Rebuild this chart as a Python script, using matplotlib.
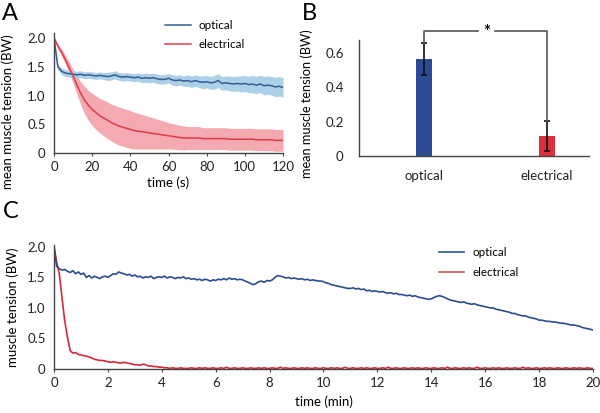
import numpy as np
import matplotlib
matplotlib.use('Agg')
from matplotlib import pyplot as plt

plt.rcParams['font.family'] = ['Lato', 'DejaVu Sans']

# Panel A: mean tension (every 2 s, 0-120 s)
t_a = np.arange(0, 121, 2)
opt_a = [2.00, 1.50, 1.42, 1.39, 1.38, 1.37, 1.36, 1.37, 1.35, 1.36,
         1.35, 1.34, 1.35, 1.34, 1.33, 1.34, 1.36, 1.33, 1.32, 1.33,
         1.32, 1.31, 1.32, 1.30, 1.31, 1.30, 1.31, 1.29, 1.28, 1.28,
         1.30, 1.27, 1.26, 1.27, 1.25, 1.26, 1.24, 1.26, 1.24, 1.23,
         1.24, 1.22, 1.23, 1.26, 1.21, 1.22, 1.21, 1.20, 1.21, 1.20,
         1.21, 1.19, 1.20, 1.18, 1.20, 1.17, 1.18, 1.17, 1.15, 1.16,
         1.14]
opt_a_sd = [0.02, 0.05, 0.06, 0.06, 0.06, 0.06, 0.06, 0.06, 0.06, 0.06,
            0.06, 0.06, 0.06, 0.06, 0.07, 0.07, 0.07, 0.07, 0.07, 0.07,
            0.07, 0.07, 0.07, 0.08, 0.08, 0.08, 0.08, 0.08, 0.08, 0.08,
            0.08, 0.09, 0.09, 0.09, 0.09, 0.10, 0.10, 0.10, 0.10, 0.11,
            0.11, 0.11, 0.12, 0.12, 0.12, 0.12, 0.13, 0.13, 0.13, 0.14,
            0.14, 0.14, 0.15, 0.15, 0.15, 0.16, 0.16, 0.16, 0.17, 0.17,
            0.17]
ele_a = [2.00, 1.86, 1.75, 1.62, 1.48, 1.34, 1.18, 1.04, 0.92, 0.83,
         0.76, 0.70, 0.65, 0.61, 0.57, 0.53, 0.50, 0.47, 0.45, 0.43,
         0.41, 0.39, 0.38, 0.37, 0.36, 0.35, 0.34, 0.33, 0.32, 0.31,
         0.30, 0.29, 0.28, 0.27, 0.26, 0.26, 0.26, 0.26, 0.26, 0.25,
         0.25, 0.25, 0.25, 0.25, 0.25, 0.25, 0.24, 0.24, 0.24, 0.24,
         0.24, 0.24, 0.24, 0.23, 0.23, 0.23, 0.23, 0.23, 0.22, 0.22,
         0.22]
ele_a_sd = [0.02, 0.04, 0.06, 0.08, 0.10, 0.12, 0.16, 0.20, 0.24, 0.26,
            0.28, 0.29, 0.30, 0.31, 0.32, 0.32, 0.33, 0.33, 0.33, 0.33,
            0.33, 0.32, 0.31, 0.30, 0.29, 0.28, 0.27, 0.26, 0.25, 0.24,
            0.23, 0.22, 0.22, 0.21, 0.21, 0.20, 0.20, 0.20, 0.20, 0.19,
            0.19, 0.19, 0.19, 0.19, 0.19, 0.19, 0.19, 0.19, 0.19, 0.19,
            0.19, 0.19, 0.19, 0.19, 0.19, 0.19, 0.19, 0.19, 0.19, 0.19,
            0.19]

# Panel B
groups = ['optical', 'electrical']
means_b = [0.563, 0.116]
errs_b = [0.093, 0.088]

# Panel C: single trial (every 0.1 min, 0-20 min)
t_c = np.arange(0, 201) / 10
opt_c = [2.00, 1.68, 1.64, 1.62, 1.63, 1.60, 1.58, 1.61, 1.56, 1.59,
         1.55, 1.57, 1.50, 1.53, 1.49, 1.52, 1.50, 1.48, 1.51, 1.52,
         1.50, 1.53, 1.56, 1.55, 1.59, 1.57, 1.56, 1.54, 1.55, 1.52,
         1.54, 1.51, 1.52, 1.49, 1.51, 1.50, 1.52, 1.48, 1.50, 1.51,
         1.50, 1.52, 1.49, 1.51, 1.50, 1.48, 1.50, 1.49, 1.51, 1.48,
         1.49, 1.47, 1.48, 1.46, 1.47, 1.45, 1.47, 1.46, 1.44, 1.46,
         1.45, 1.47, 1.46, 1.48, 1.46, 1.49, 1.47, 1.48, 1.46, 1.47,
         1.46, 1.44, 1.42, 1.40, 1.38, 1.40, 1.43, 1.44, 1.42, 1.45,
         1.44, 1.46, 1.50, 1.53, 1.52, 1.51, 1.49, 1.50, 1.48, 1.49,
         1.48, 1.47, 1.48, 1.46, 1.47, 1.45, 1.46, 1.45, 1.44, 1.44,
         1.43, 1.41, 1.40, 1.38, 1.37, 1.36, 1.35, 1.34, 1.33, 1.32,
         1.32, 1.33, 1.31, 1.32, 1.30, 1.31, 1.28, 1.29, 1.27, 1.28,
         1.27, 1.26, 1.27, 1.25, 1.24, 1.25, 1.23, 1.24, 1.22, 1.22,
         1.21, 1.20, 1.21, 1.19, 1.20, 1.18, 1.17, 1.16, 1.15, 1.14,
         1.15, 1.17, 1.19, 1.20, 1.19, 1.17, 1.15, 1.13, 1.12, 1.11,
         1.10, 1.09, 1.10, 1.08, 1.07, 1.06, 1.07, 1.05, 1.04, 1.03,
         1.02, 1.01, 1.00, 1.00, 0.98, 0.97, 0.96, 0.95, 0.94, 0.93,
         0.91, 0.91, 0.89, 0.88, 0.87, 0.87, 0.85, 0.84, 0.83, 0.82,
         0.80, 0.80, 0.79, 0.78, 0.78, 0.77, 0.77, 0.76, 0.75, 0.75,
         0.74, 0.73, 0.72, 0.72, 0.71, 0.70, 0.68, 0.67, 0.66, 0.65,
         0.64]
ele_c = [2.00, 1.75, 1.55, 1.15, 0.78, 0.52, 0.30, 0.26, 0.27, 0.24,
         0.23, 0.22, 0.21, 0.20, 0.18, 0.16, 0.15, 0.14, 0.14, 0.13,
         0.12, 0.11, 0.12, 0.11, 0.10, 0.10, 0.11, 0.10, 0.09, 0.08,
         0.07, 0.07, 0.06, 0.08, 0.07, 0.05, 0.05, 0.04, 0.04, 0.03,
         0.03, 0.02, 0.02, 0.01, 0.02, 0.01, 0.01, 0.02, 0.01, 0.01,
         0.01, 0.02, 0.01, 0.01, 0.02, 0.01, 0.02, 0.01, 0.01, 0.02,
         0.01, 0.01, 0.02, 0.01, 0.03, 0.01, 0.01, 0.02, 0.01, 0.01,
         0.02, 0.01, 0.01, 0.02, 0.01, 0.01, 0.02, 0.01, 0.02, 0.01,
         0.01, 0.02, 0.01, 0.01, 0.03, 0.01, 0.02, 0.01, 0.01, 0.02,
         0.01, 0.01, 0.02, 0.01, 0.02, 0.01, 0.01, 0.02, 0.01, 0.01,
         0.02, 0.01, 0.01, 0.02, 0.01, 0.02, 0.01, 0.01, 0.03, 0.01,
         0.01, 0.02, 0.01, 0.01, 0.02, 0.01, 0.02, 0.01, 0.01, 0.02,
         0.01, 0.01, 0.02, 0.01, 0.03, 0.01, 0.01, 0.02, 0.01, 0.01,
         0.02, 0.01, 0.01, 0.02, 0.01, 0.02, 0.01, 0.01, 0.02, 0.01,
         0.01, 0.02, 0.01, 0.01, 0.02, 0.01, 0.03, 0.01, 0.01, 0.02,
         0.01, 0.01, 0.02, 0.01, 0.02, 0.01, 0.01, 0.03, 0.01, 0.01,
         0.02, 0.01, 0.01, 0.02, 0.01, 0.02, 0.01, 0.01, 0.02, 0.01,
         0.01, 0.02, 0.01, 0.01, 0.03, 0.01, 0.02, 0.01, 0.01, 0.02,
         0.01, 0.01, 0.02, 0.01, 0.02, 0.01, 0.01, 0.02, 0.01, 0.01,
         0.02, 0.01, 0.01, 0.02, 0.01, 0.02, 0.01, 0.01, 0.02, 0.01,
         0.01]

blue = '#2b4c94'
red = '#d9303b'
spine = '#444444'
fs = 9.5
lfs = 8.4  # legend text


def style(ax):
    for s in ['top', 'right']:
        ax.spines[s].set_visible(False)
    for s in ['left', 'bottom']:
        ax.spines[s].set_color(spine)
        ax.spines[s].set_linewidth(1.0)
    ax.tick_params(axis='y', length=0, labelsize=fs, pad=6, colors='#222222')
    ax.tick_params(axis='x', length=2.5, width=0.8, color=spine,
                   labelsize=fs, pad=3, labelcolor='#222222')


fig = plt.figure(figsize=(6, 4.13), dpi=100)

# ---- A
axA = fig.add_axes([0.09, 0.6295, 0.3817, 0.2896])
oa = np.array(opt_a); osd = np.array(opt_a_sd)
ea = np.array(ele_a); esd = np.array(ele_a_sd)
axA.fill_between(t_a, ea - esd, ea + esd, color='#f4aab0', lw=0)
axA.fill_between(t_a, oa - osd, oa + osd, color='#a3cbe6', lw=0, alpha=0.9)
axA.plot(t_a, oa, color='#345e92', lw=1.1, label='optical')
axA.plot(t_a, ea, color='#dc3c48', lw=1.1, label='electrical')
axA.set_xlim(0, 120)
axA.set_ylim(0, 2.08)
axA.set_xticks([0, 20, 40, 60, 80, 100, 120])
axA.set_yticks([0, 0.5, 1.0, 1.5, 2.0])
axA.set_yticklabels(['0', '0.5', '1.0', '1.5', '2.0'])
axA.set_xlabel('time (s)', fontsize=fs, labelpad=3)
axA.set_ylabel('mean muscle tension (BW)', fontsize=fs)
axA.yaxis.set_label_coords(-0.175, 0.35)
style(axA)
axA.legend(loc='upper left', bbox_to_anchor=(0.485, 1.115), frameon=False,
           fontsize=lfs, handlelength=2.2, handletextpad=0.7,
           labelspacing=0.75, borderpad=0, borderaxespad=0)

# ---- B
axB = fig.add_axes([0.5983, 0.6223, 0.3833, 0.2809])
xb = np.arange(len(groups))
axB.bar(xb, means_b, width=0.13, color=[blue, red], yerr=errs_b,
        error_kw=dict(ecolor='#111111', elinewidth=1.2, capsize=2.5, capthick=1.2))
axB.set_xlim(-0.525, 1.341)
axB.set_ylim(0, 0.676)
axB.set_xticks(xb)
axB.set_xticklabels(groups)
axB.set_yticks([0, 0.2, 0.4, 0.6])
axB.set_yticklabels(['0', '0.2', '0.4', '0.6'])
axB.set_ylabel('mean muscle tension (BW)', fontsize=9.2)
axB.yaxis.set_label_coords(-0.2, 0.45)
style(axB)
axB.tick_params(axis='y', pad=11)
axB.tick_params(axis='x', length=0, pad=10)
yb = 0.73
tops = [m + e for m, e in zip(means_b, errs_b)]
axB.plot([0, 0, 0.44], [tops[0], yb, yb], color='#555555', lw=1.2, clip_on=False)
axB.plot([0.58, 1, 1], [yb, yb, tops[1]], color='#555555', lw=1.2, clip_on=False)
axB.text(0.51, yb - 0.005, '*', ha='center', va='center', fontsize=12, fontweight='bold')

# ---- C
axC = fig.add_axes([0.09, 0.1065, 0.8983, 0.3002])
axC.plot(t_c, ele_c, color='#d42a36', lw=1.2)
axC.plot(t_c, opt_c, color=blue, lw=1.2)
axC.set_xlim(0, 20)
axC.set_ylim(0, 2.03)
axC.set_xticks(np.arange(0, 21, 2))
axC.set_yticks([0, 0.5, 1.0, 1.5, 2.0])
axC.set_yticklabels(['0', '0.5', '1.0', '1.5', '2.0'])
axC.set_xlabel('time (min)', fontsize=fs, labelpad=5)
axC.set_ylabel('muscle tension (BW)', fontsize=fs, labelpad=6)
style(axC)
hc = [plt.Line2D([], [], color='#3c64a0', lw=1.3),
      plt.Line2D([], [], color='#cf6860', lw=1.3)]
axC.legend(hc, ['optical', 'electrical'], loc='upper left',
           bbox_to_anchor=(0.714, 0.985), frameon=False, fontsize=lfs,
           handlelength=2.2, handletextpad=0.7, labelspacing=0.75,
           borderpad=0, borderaxespad=0)

fig.text(0.004, 1 - 20 / 413, 'A', fontsize=17, va='baseline')
fig.text(0.503, 1 - 20 / 413, 'B', fontsize=17, va='baseline')
fig.text(0.004, 1 - 218 / 413, 'C', fontsize=17, va='baseline')

fig.savefig('out.png', dpi=100)
